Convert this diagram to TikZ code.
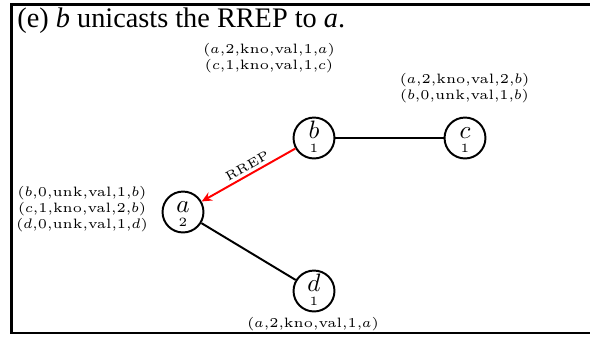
\documentclass[tikz,border=0pt]{standalone}
\usepackage{fontspec}
\newfontfamily\titlefont{Liberation Serif}
\newfontfamily\lmfive[Extension=.otf]{lmroman5-regular}
\usetikzlibrary{arrows.meta}
\tikzset{
  px/.style={x=0.4348pt,y=-0.4348pt},
  frameline/.style={line width=1.2pt},
  host/.style={circle,draw,line width=0.85pt,minimum size=17.8pt,inner sep=0pt},
  hostname/.style={anchor=base,inner sep=0pt,font=\fontsize{10.5}{12}\selectfont},
  hostnum/.style={anchor=base,inner sep=0pt,font=\lmfive\fontsize{5.5}{6}\selectfont},
  tbl/.style={align=center,inner sep=0pt,font=\lmfive\fontsize{5.9}{5.4}\selectfont},
  link/.style={line width=0.85pt},
  msg/.style={line width=0.85pt,red,-{Stealth[length=4.5pt,width=4pt,inset=1.6pt]}},
  msglabel/.style={font=\lmfive\fontsize{5.6}{8}\selectfont,text=black,inner sep=1.2pt}
}
\begin{document}
\begin{tikzpicture}[px]
\useasboundingbox (0,0) rectangle (590,336);
\coordinate (f1) at (590,4.5);
\coordinate (f2) at (11.2,4.5);
\coordinate (f3) at (11.2,333);
\coordinate (f4) at (590,333);
\draw[frameline] (f1) -- (f2) -- (f3) -- (f4);
\node[anchor=base west,inner sep=0pt,font=\titlefont\fontsize{12.3}{14}\selectfont] (title) at (17,27) {(e) \textit{b} unicasts the RREP to \textit{a}.};

\node[host] (a) at (183,212) {};
\node[host] (b) at (314,138) {};
\node[host] (c) at (465,138) {};
\node[host] (d) at (314,291) {};

\node[hostname] (al) at (a.center) {$a$};
\node[hostname] (bl) at (b.center) {$b$};
\node[hostname] (cl) at (c.center) {$c$};
\node[hostname] (dl) at (d.center) {$d$};
\node[hostnum] (an) at ([yshift=-6.1pt]a.center) {2};
\node[hostnum] (bn) at ([yshift=-6.1pt]b.center) {1};
\node[hostnum] (cn) at ([yshift=-6.1pt]c.center) {1};
\node[hostnum] (dn) at ([yshift=-6.1pt]d.center) {1};

\draw[link] (b) -- (c);
\draw[link] (a) -- (d);
\draw[msg] (b) -- node[msglabel,pos=0.47,above,sloped] (rrep) {RREP} (a);

\node[tbl] (tb) at (269,58) {($a$,2,kno,val,1,$a$)\\($c$,1,kno,val,1,$c$)};
\node[tbl] (tc) at (464.5,88) {($a$,2,kno,val,2,$b$)\\($b$,0,unk,val,1,$b$)};
\node[tbl] (ta) at (82,209) {($b$,0,unk,val,1,$b$)\\($c$,1,kno,val,2,$b$)\\($d$,0,unk,val,1,$d$)};
\node[tbl] (td) at (313,324) {($a$,2,kno,val,1,$a$)};
\end{tikzpicture}
\end{document}
